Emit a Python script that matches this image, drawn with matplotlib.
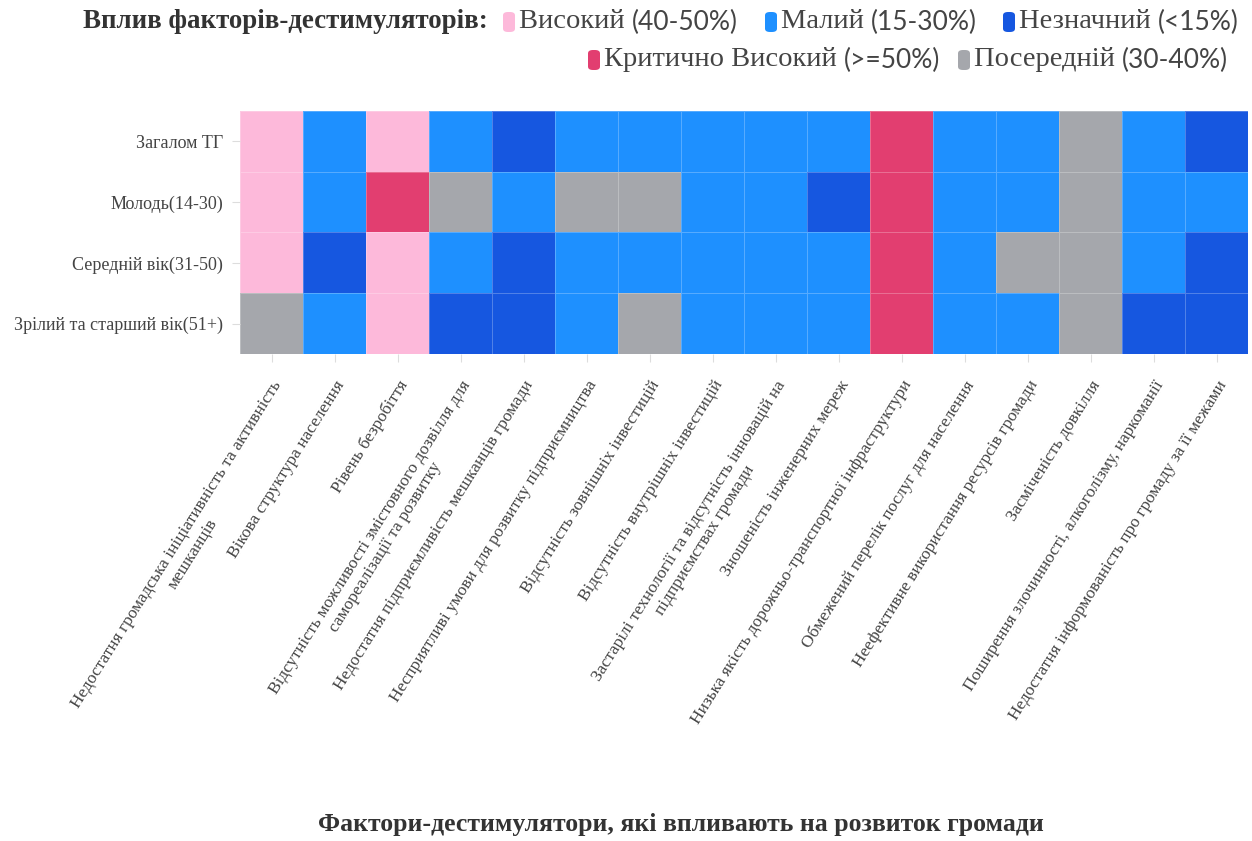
import matplotlib
matplotlib.use("Agg")
import matplotlib.pyplot as plt
from matplotlib.colors import ListedColormap, BoundaryNorm
from matplotlib.patches import FancyBboxPatch
import numpy as np

plt.rcParams['font.family'] = ['Liberation Serif', 'DejaVu Serif']

# Рівні впливу: 0 - незначний, 1 - малий, 2 - посередній, 3 - високий, 4 - критичний
level_names = ["Незначний", "Малий", "Посередній", "Високий", "Критично Високий"]
level_ranges = ["(<15%)", "(15-30%)", "(30-40%)", "(40-50%)", "(>=50%)"]
level_colors = ["#1657E0", "#1E90FF", "#A5A7AC", "#FDB9DA", "#E23E70"]

groups = ["Загалом ТГ", "Молодь(14-30)", "Середній вік(31-50)", "Зрілий та старший вік(51+)"]

factors = [
    "Недостатня громадська ініціативність та активність\nмешканців",
    "Вікова структура населення",
    "Рівень безробіття",
    "Відсутність можливості змістовного дозвілля для\nсамореалізації та розвитку",
    "Недостатня підприємливість мешканців громади",
    "Несприятливі умови для розвитку підприємництва",
    "Відсутність зовнішніх інвестицій",
    "Відсутність внутрішніх інвестицій",
    "Застарілі технології та відсутність інновацій на\nпідприємствах громади",
    "Зношеність інженерних мереж",
    "Низька якість дорожньо-транспортної інфраструктури",
    "Обмежений перелік послуг для населення",
    "Неефективне використання ресурсів громади",
    "Засміченість довкілля",
    "Поширення злочинності, алкоголізму, наркоманії",
    "Недостатня інформованість про громаду за її межами",
]

row_total = [3, 1, 3, 1, 0, 1, 1, 1, 1, 1, 4, 1, 1, 2, 1, 0]
row_young = [3, 1, 4, 2, 1, 2, 2, 1, 1, 0, 4, 1, 1, 2, 1, 1]
row_middle = [3, 0, 3, 1, 0, 1, 1, 1, 1, 1, 4, 1, 2, 2, 1, 0]
row_senior = [2, 1, 3, 0, 0, 1, 2, 1, 1, 1, 4, 1, 1, 2, 0, 0]

data = np.array([row_total, row_young, row_middle, row_senior])

text_color = "#444444"

fig = plt.figure(figsize=(12.52, 8.41), dpi=100)
ax = fig.add_axes([240 / 1252, 1 - 354 / 841, 1008 / 1252, 243 / 841])

cmap = ListedColormap(level_colors)
norm = BoundaryNorm(np.arange(-0.5, 5.5, 1), cmap.N)
ax.pcolormesh(np.arange(len(factors) + 1), np.arange(len(groups) + 1), data,
              cmap=cmap, norm=norm, edgecolor=(1, 1, 1, 0.25), linewidth=0.6)
ax.set_xlim(0, len(factors))
ax.set_ylim(len(groups), 0)

for s in ax.spines.values():
    s.set_visible(False)

ax.set_yticks(np.arange(len(groups)) + 0.5)
ax.set_yticklabels(groups, fontsize=13, color=text_color)
ax.set_xticks(np.arange(len(factors)) + 0.5)
ax.set_xticklabels(factors, fontsize=12.5, color=text_color, rotation=58,
                   ha='right', va='top', rotation_mode='anchor', multialignment='center')
ax.tick_params(axis='both', length=6, color="#dddddd", width=0.8)
ax.tick_params(axis='x', pad=11)
ax.tick_params(axis='y', pad=6)

# Легенда зверху
fig.text(83 / 1252, 1 - 22 / 841, "Вплив факторів-дестимуляторів:", fontsize=19.4,
         fontweight='bold', color="#333333", va='center', ha='left')

renderer = fig.canvas.get_renderer()
legend_items = [
    (503, 22, 3), (765, 22, 1), (1003, 22, 0),
    (588, 60, 4), (958, 60, 2),
]
for px, py, lvl in legend_items:
    patch = FancyBboxPatch((px / 1252, 1 - (py + 10) / 841), 12 / 1252, 20 / 841,
                           boxstyle="round,pad=0,rounding_size=0.004",
                           transform=fig.transFigure, facecolor=level_colors[lvl],
                           edgecolor='none')
    fig.patches.append(patch)
    t = fig.text((px + 16) / 1252, 1 - py / 841, level_names[lvl] + " ", fontsize=20.5,
                 color=text_color, va='center', ha='left')
    bb = t.get_window_extent(renderer)
    fig.text(bb.x1 / 1252, 1 - py / 841, level_ranges[lvl], fontsize=19, family='Lato',
             color=text_color, va='center', ha='left')

fig.text(681 / 1252, 1 - 825 / 841, "Фактори-дестимулятори, які впливають на розвиток громади",
         fontsize=18.5, fontweight='bold', color="#333333", ha='center', va='center')

fig.savefig("out.png", dpi=100, facecolor='white')
